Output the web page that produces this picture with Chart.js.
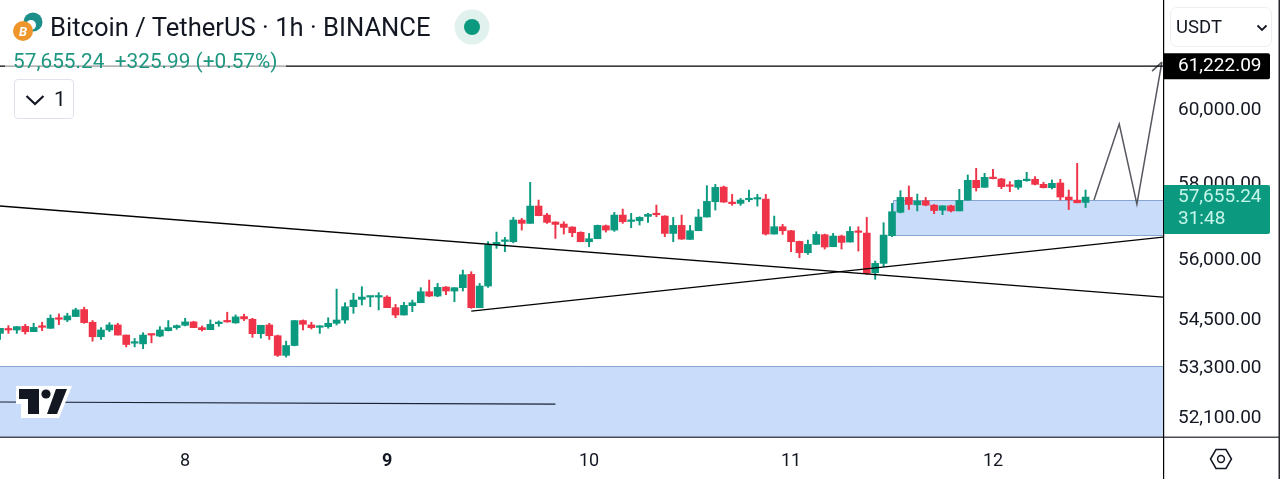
<!DOCTYPE html>
<html>
<head>
<title>Bitcoin / TetherUS 1h</title>
<script src="https://cdn.jsdelivr.net/npm/chart.js"></script>
<style>
  body { margin: 0; background: #fff; font-family: Roboto, sans-serif; color: #131722; }
  #wrap { position: relative; width: 1280px; height: 479px; overflow: hidden; }
  canvas { position: absolute; left: 0; top: 0; }
  .abs { position: absolute; white-space: nowrap; }
  #title { left: 50px; top: 11px; font-size: 25.6px; line-height: 32px; }
  #quote { left: 5px; top: 50px; padding: 0 8px; font-size: 20.8px; line-height: 23px; color: #1f9680; background: rgba(255,255,255,.6); }
  #count { left: 14px; top: 79px; width: 58px; height: 38px; border: 1px solid #e0e3eb; border-radius: 4px; font-size: 21px; line-height: 38px; background: #fff; }
  #currency { left: 1170px; top: 7px; width: 100px; height: 38px; border: 1px solid #eceef2; border-radius: 7px; font-size: 18.5px; line-height: 38px; }
</style>
</head>
<body>
<div id="wrap">
  <canvas id="chart" width="1280" height="479"></canvas>

  <svg class="abs" style="left:12px;top:10px" width="36" height="34" viewBox="0 0 36 34">
    <circle cx="21" cy="12" r="9.5" fill="#1d8f8a"/>
    <circle cx="19" cy="15" r="5" fill="#fff"/>
    <circle cx="11" cy="21" r="10" fill="#ee962c"/>
    <text x="11" y="26" font-size="13" font-weight="700" font-style="italic" text-anchor="middle" fill="#fff">B</text>
  </svg>
  <div class="abs" id="title">Bitcoin / TetherUS · 1h · BINANCE</div>
  <svg class="abs" style="left:454px;top:9px" width="36" height="36">
    <circle cx="18" cy="18" r="17.5" fill="#e1f2ee"/>
    <circle cx="18" cy="18" r="8" fill="#0b9a80"/>
  </svg>
  <div class="abs" id="quote">57,655.24&nbsp; +325.99 (+0.57%)</div>
  <div class="abs" id="count">
    <svg style="position:absolute;left:10px;top:14px" width="20" height="12"><path d="M1.5 2 L10 10 L18.5 2" fill="none" stroke="#131722" stroke-width="2.2"/></svg>
    <span style="position:absolute;left:39px">1</span>
  </div>
  <div class="abs" id="currency">
    <span style="position:absolute;left:5px">USDT</span>
    <svg style="position:absolute;left:85px;top:16px" width="12" height="8"><path d="M1.5 1.5 L6 6 L10.5 1.5" fill="none" stroke="#131722" stroke-width="1.8"/></svg>
  </div>

  <svg class="abs" style="left:15px;top:385px" width="58" height="34">
    <path d="M1 1 H57 L44 33 H6 V19 H1 Z" fill="#fff"/>
    <path d="M4 4 H24 V29 H13 V14 H4 Z" fill="#131722"/>
    <circle cx="31" cy="9" r="4.6" fill="#131722"/>
    <path d="M41 4 H52 L42 29 H32 Z" fill="#131722"/>
  </svg>

  <svg class="abs" style="left:1209px;top:448px" width="24" height="22">
    <path d="M1.5 11 L7 1.5 H17 L22.5 11 L17 20.5 H7 Z" fill="none" stroke="#131722" stroke-width="1.5"/>
    <circle cx="12" cy="11" r="3.4" fill="none" stroke="#131722" stroke-width="1.5"/>
  </svg>
</div>

<script>
// hours counted from the start of the 8th
const firstHour = -22;
const dayTicks = [0, 24, 48, 72, 96];
const dayLabels = ['8', '9', '10', '11', '12'];
const priceTicks = [60000, 58000, 56000, 54500, 53300, 52100];

const opens = [
  54162,54271,54246,54338,54204,54330,54288,54539,54497,54581,
  54757,54439,54078,54246,54372,54120,53919,53902,54137,54095,
  54229,54305,54363,54447,54305,54254,54405,54455,54422,54581,
  54514,54154,54372,54104,53618,53861,54481,54372,54313,54329,
  54413,54495,54829,55013,55072,55072,55072,54804,54620,54854,
  54929,55207,55097,55326,55224,55309,55648,54804,55351,56410,
  56496,56487,57051,56964,57419,57182,56999,56947,56869,56730,
  56487,56565,56903,56790,57182,57016,57033,57147,57208,57156,
  56703,56912,56547,56773,57130,57533,57921,57524,57489,57586,
  57603,57603,56686,56877,56773,56496,56203,56418,56669,56358,
  56634,56479,56756,56712,55690,55929,56643,57255,57647,57451,
  57558,57443,57309,57425,57291,57576,58101,57914,58181,58137,
  57959,57914,58092,58128,57994,57905,58030,57656,57576,57514
];
const highs = [
  54288,54355,54330,54388,54414,54439,54623,54648,54665,54791,
  54816,54481,54305,54430,54414,54120,54037,54179,54145,54330,
  54481,54372,54539,54464,54347,54497,54472,54690,54623,54640,
  54539,54363,54414,54120,53969,54481,54497,54439,54355,54552,
  55274,54928,55165,55334,55089,55182,55106,54887,54937,54996,
  55309,55503,55418,55334,55309,55758,55716,55418,56487,56738,
  56599,57121,57095,58046,57577,57226,57007,57007,56877,56747,
  56703,56921,56921,57252,57340,57226,57139,57226,57445,57165,
  57121,57182,56912,57331,57957,57992,57948,57727,57621,57841,
  57727,57727,57156,56938,56782,56504,56530,56747,56686,56703,
  56660,56877,56877,57121,55988,56982,57489,57825,57950,57736,
  57647,57460,57425,57443,57861,58243,58422,58288,58395,58154,
  58066,58110,58315,58199,58048,58110,58128,57843,58555,57843
];
const lows = [
  54011,54162,54162,54145,54204,54229,54288,54380,54455,54581,
  54414,53969,54011,54204,54120,53827,53827,53785,53928,54078,
  54221,54263,54347,54305,54221,54254,54338,54439,54414,54481,
  54062,54045,54011,53592,53576,53852,54246,54271,54162,54290,
  54372,54413,54662,54871,54829,54746,54804,54553,54620,54704,
  54929,55080,55080,55131,54954,55224,54787,54804,55317,56315,
  56229,56461,56790,56964,57165,56964,56573,56686,56617,56487,
  56358,56565,56738,56756,56964,56851,56921,56990,57139,56617,
  56487,56547,56547,56773,57130,57314,57516,57437,57437,57533,
  57419,56660,56686,56677,56229,56074,56160,56418,56298,56358,
  56298,56479,56246,55648,55520,55844,56617,57238,57327,57291,
  57425,57220,57193,57264,57291,57576,57816,57914,58137,57879,
  57799,57861,58074,57977,57896,57870,57576,57327,57505,57380
];
const closes = [
  54288,54246,54330,54204,54313,54313,54539,54514,54598,54749,
  54430,54078,54246,54372,54120,53886,53936,54120,54120,54246,
  54305,54355,54447,54305,54254,54388,54439,54447,54573,54523,
  54154,54363,54104,53618,53861,54481,54388,54305,54330,54413,
  54495,54828,54996,55072,55089,55089,54804,54620,54862,54929,
  55207,55097,55317,55224,55309,55639,54804,55351,56410,56470,
  56513,57051,56964,57419,57165,56990,56938,56860,56721,56487,
  56565,56912,56790,57182,57007,57042,57121,57200,57191,56703,
  56912,56556,56773,57130,57542,57912,57524,57481,57577,57612,
  57621,56686,56877,56773,56487,56203,56418,56677,56350,56634,
  56470,56756,56730,55673,55929,56660,57270,57647,57460,57549,
  57443,57300,57425,57291,57567,58101,57905,58181,58146,57932,
  57941,58101,58128,57994,57905,58021,57656,57585,57505,57655.24
];

// drawings on the chart, [hour, price]
const targetPrice = 61222.09;
const lastPrice = 57655.24;
const countdown = '31:48';
const fallingLine = [[-22, 57420], [116.2, 55072]];
const risingLine = [[34, 54720], [116.2, 56608]];
const lowLine = [[-22, 52484], [44, 52435]];
const forecastPath = [[108, 57577], [111, 59619], [113.1, 57471], [116.07, 61338]];
const forecastArrow = [[114.9, 61085], [116.07, 61338]];
const upperZone = { from: 84.1, to: 116.2, top: 57577, bottom: 56660 };
const lowerZone = { from: -22, to: 116.2, top: 53357, bottom: 51648 };

const GREEN = '#0b9a80';
const RED = '#ef3348';
const FONT = 'Roboto, sans-serif';

const hours = opens.map((_, i) => firstHour + i);
const candleColors = opens.map((o, i) => closes[i] >= o ? GREEN : RED);

function toPoints(list) {
  return list.map(p => ({ x: p[0], y: p[1] }));
}

function lineSet(points, color, width) {
  return {
    type: 'line',
    data: toPoints(points),
    borderColor: color,
    borderWidth: width,
    pointRadius: 0,
    tension: 0,
    fill: false,
    order: 0
  };
}

// the tick labels must not push the plot area in from the canvas edge
function noAxisPadding(axis) {
  axis.paddingTop = 0;
  axis.paddingBottom = 0;
  axis.paddingLeft = 0;
  axis.paddingRight = 0;
}

// blue boxes go behind the candles
const zonesPlugin = {
  id: 'zones',
  beforeDatasetsDraw(chart) {
    const { ctx, scales: { x, y } } = chart;
    ctx.save();
    ctx.lineWidth = 1;
    ctx.strokeStyle = '#86a6d2';

    let l = x.getPixelForValue(lowerZone.from), r = x.getPixelForValue(lowerZone.to);
    let t = Math.round(y.getPixelForValue(lowerZone.top)), b = y.getPixelForValue(lowerZone.bottom);
    ctx.fillStyle = '#c9dcfa';
    ctx.fillRect(l, t, r - l, b - t);
    ctx.beginPath();
    ctx.moveTo(l, t + 0.5);
    ctx.lineTo(r, t + 0.5);
    ctx.stroke();

    l = Math.round(x.getPixelForValue(upperZone.from));
    r = x.getPixelForValue(upperZone.to);
    t = Math.round(y.getPixelForValue(upperZone.top));
    b = Math.round(y.getPixelForValue(upperZone.bottom));
    ctx.fillRect(l, t, r - l, b - t);
    ctx.beginPath();
    ctx.moveTo(r, t + 0.5);
    ctx.lineTo(l + 0.5, t + 0.5);
    ctx.lineTo(l + 0.5, b + 0.5);
    ctx.lineTo(r, b + 0.5);
    ctx.stroke();
    ctx.restore();
  }
};

// axis frame and the two price badges
const framePlugin = {
  id: 'frame',
  afterDraw(chart) {
    const { ctx, chartArea: a, scales: { y } } = chart;
    ctx.save();
    ctx.fillStyle = '#4a4d55';
    ctx.fillRect(0, a.bottom - 0.5, 1280, 1.5);
    ctx.fillStyle = '#000';
    ctx.fillRect(a.right, 0, 1.2, 479);
    ctx.fillStyle = '#26282e';
    ctx.fillRect(1278.5, 0, 1.5, 479);

    ctx.textBaseline = 'middle';
    ctx.textAlign = 'left';
    ctx.font = '19px ' + FONT;

    const yt = y.getPixelForValue(targetPrice);
    ctx.fillStyle = '#000';
    ctx.beginPath();
    ctx.roundRect(a.right + 1, yt - 13, 106, 26, [0, 2, 2, 0]);
    ctx.fill();
    ctx.fillStyle = '#fff';
    ctx.fillText(targetPrice.toLocaleString('en-US', { minimumFractionDigits: 2 }), 1178, yt);

    const yl = y.getPixelForValue(lastPrice);
    ctx.fillStyle = GREEN;
    ctx.beginPath();
    ctx.roundRect(a.right + 1, yl - 12, 106, 49, [0, 2, 2, 0]);
    ctx.fill();
    ctx.fillStyle = '#c6f5ea';
    ctx.fillText(lastPrice.toLocaleString('en-US', { minimumFractionDigits: 2 }), 1178, yl);
    ctx.fillText(countdown, 1178, yl + 22);
    ctx.restore();
  }
};

new Chart(document.getElementById('chart'), {
  type: 'bar',
  data: {
    datasets: [
      lineSet([[-22, targetPrice], [116.2, targetPrice]], '#000', 1.2),
      lineSet(fallingLine, '#000', 1.3),
      lineSet(risingLine, '#000', 1.3),
      lineSet(lowLine, '#1a2233', 1.2),
      lineSet(forecastPath, '#55585f', 1.5),
      lineSet(forecastArrow, '#55585f', 1.5),
      {
        data: hours.map((h, i) => ({ x: h, y: [lows[i], highs[i]] })),
        backgroundColor: candleColors,
        barThickness: 1.3,
        grouped: false,
        order: 2
      },
      {
        data: hours.map((h, i) => ({ x: h, y: [opens[i], closes[i]] })),
        backgroundColor: candleColors,
        barThickness: 7,
        minBarLength: 1.5,
        grouped: false,
        order: 1
      }
    ]
  },
  options: {
    responsive: false,
    animation: false,
    layout: { padding: 0, autoPadding: false },
    plugins: { legend: { display: false }, tooltip: { enabled: false } },
    scales: {
      x: {
        type: 'linear',
        offset: false,
        min: -22,
        max: 116.2,
        grid: { display: false, drawTicks: false },
        border: { display: false },
        afterFit(axis) { axis.height = 42; noAxisPadding(axis); },
        afterBuildTicks(axis) { axis.ticks = dayTicks.map(v => ({ value: v })); },
        ticks: {
          autoSkip: false,
          maxRotation: 0,
          padding: 14,
          color: '#131722',
          font: ctx => ({ family: FONT, size: 18, weight: ctx.tick && ctx.tick.value === 24 ? 'bold' : 'normal' }),
          callback: v => dayLabels[dayTicks.indexOf(v)]
        }
      },
      y: {
        type: 'logarithmic',
        position: 'right',
        bounds: 'data',
        min: 51648,
        max: 63110,
        grid: { display: false, drawTicks: false },
        border: { display: false },
        afterFit(axis) { axis.width = 117; noAxisPadding(axis); },
        afterBuildTicks(axis) { axis.ticks = priceTicks.map(v => ({ value: v })); },
        ticks: {
          autoSkip: false,
          padding: 15,
          color: '#131722',
          font: { family: FONT, size: 19 },
          callback: v => v.toLocaleString('en-US', { minimumFractionDigits: 2 })
        }
      }
    }
  },
  plugins: [zonesPlugin, framePlugin]
});
</script>
</body>
</html>
